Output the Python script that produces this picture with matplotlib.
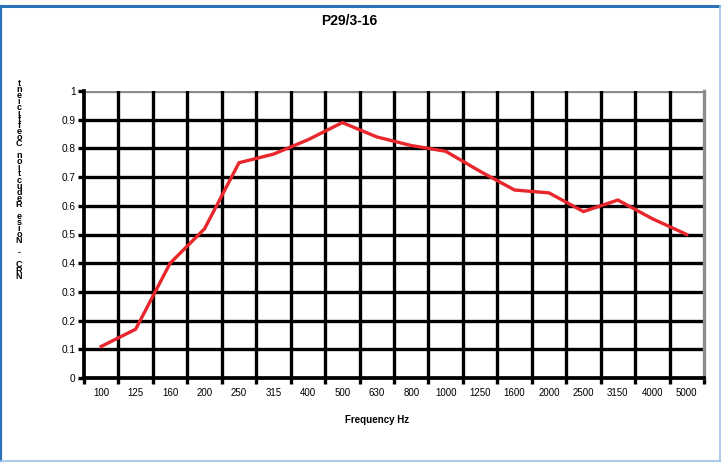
import matplotlib
matplotlib.use("Agg")
import matplotlib.pyplot as plt
from matplotlib.lines import Line2D
import numpy as np

plt.rcParams['font.family'] = ['Liberation Sans', 'DejaVu Sans']

categories = ["100", "125", "160", "200", "250", "315", "400", "500", "630", "800",
              "1000", "1250", "1600", "2000", "2500", "3150", "4000", "5000"]
nrc_values = [0.11, 0.17, 0.40, 0.52, 0.75, 0.78, 0.83, 0.89, 0.84, 0.81,
              0.79, 0.72, 0.655, 0.645, 0.58, 0.62, 0.555, 0.50]
y_ticks = [0, 0.1, 0.2, 0.3, 0.4, 0.5, 0.6, 0.7, 0.8, 0.9, 1.0]
y_tick_labels = ["0", "0.1", "0.2", "0.3", "0.4", "0.5", "0.6", "0.7", "0.8", "0.9", "1"]
title = "P29/3-16"
x_label = "Frequency Hz"
y_label = "NRC - Noise Reduction Coefficient"

W, H = 721, 463
fig = plt.figure(figsize=(W / 100, H / 100), dpi=100)
fig.patch.set_facecolor("white")

L, R, T, B = 84, 704, 91, 378
ax = fig.add_axes([L / W, 1 - B / H, (R - L) / W, (B - T) / H])
n = len(categories)
x = np.arange(n)

ax.set_xlim(-0.5, n - 0.5)
ax.set_ylim(0, 1)

# grid lines
for yv in y_ticks[1:-1]:
    ax.axhline(yv, color="black", lw=2.4, zorder=1)
ax.axhline(1.0, color="#8c8c8c", lw=2.4, zorder=1)
for b in np.arange(-0.5, n, 1.0)[1:-1]:
    ax.axvline(b, color="black", lw=2.4, zorder=1)

ax.plot(x, nrc_values, color="#e8262b", lw=2.4, zorder=3, solid_joinstyle="miter")

ax.spines["top"].set_visible(False)
ax.spines["right"].set_color("#8c8c8c")
ax.spines["right"].set_linewidth(2.4)
ax.spines["left"].set_linewidth(2.7)
ax.spines["bottom"].set_linewidth(2.7)

ax.set_yticks(y_ticks)
ax.set_yticklabels(y_tick_labels, fontsize=7.3)
ax.tick_params(axis="y", length=4, width=2.4, pad=2)

ax.set_xticks(x)
ax.set_xticklabels(categories, fontsize=7)
ax.tick_params(axis="x", which="major", length=0, pad=7)
ax.set_xticks(np.arange(-0.5, n, 1.0), minor=True)
ax.tick_params(axis="x", which="minor", length=4, width=2.4)

fig.text(349 / W, 1 - 21 / H, title, ha="center", va="center",
         fontsize=10, fontweight="bold")
fig.text(377 / W, 1 - 420 / H, x_label, ha="center", va="center",
         fontsize=7, fontweight="bold")
fig.text(19 / W, 1 - 180 / H, "\n".join(y_label[::-1]), ha="center", va="center",
         fontsize=6.5, fontweight="bold", linespacing=0.58)

# outer frame
fig.add_artist(Line2D([0, 1], [1 - 5.5 / H, 1 - 5.5 / H], transform=fig.transFigure,
                      color="#2a72b8", lw=2.2))
fig.add_artist(Line2D([1.2 / W, 1.2 / W], [1 - 5.5 / H, 1 - 460.5 / H], transform=fig.transFigure,
                      color="#2a72b8", lw=1.6))
fig.add_artist(Line2D([0, 1], [1 - 460.5 / H, 1 - 460.5 / H], transform=fig.transFigure,
                      color="#9cc3e6", lw=1.2))
fig.add_artist(Line2D([1 - 1.2 / W, 1 - 1.2 / W], [1 - 5.5 / H, 1 - 460.5 / H], transform=fig.transFigure,
                      color="#9cc3e6", lw=1.2))

fig.savefig("out.png", dpi=100, facecolor="white")
